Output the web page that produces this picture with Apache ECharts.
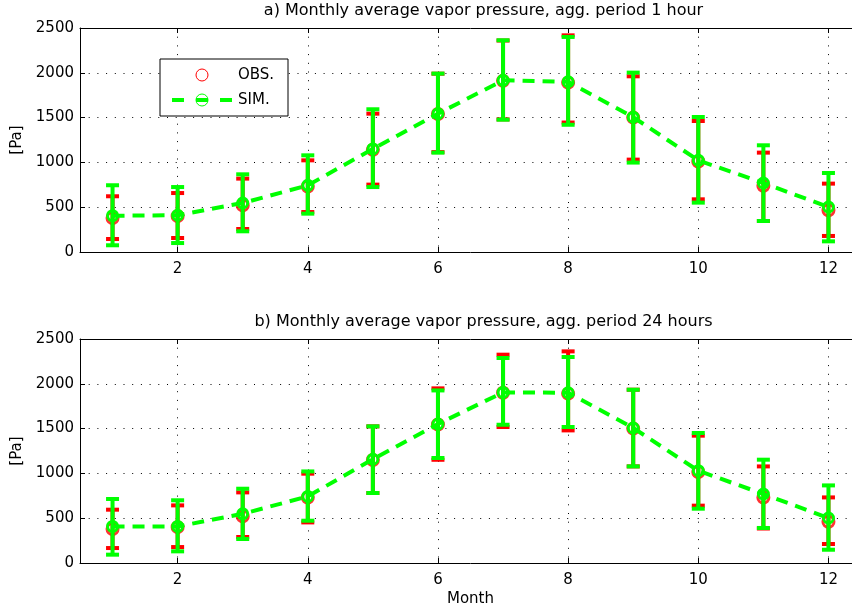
<!DOCTYPE html>
<html>
<head>
<meta charset="utf-8">
<script src="https://cdn.jsdelivr.net/npm/echarts@6/dist/echarts.min.js"></script>
<style>
html,body{margin:0;padding:0;overflow:hidden;background:#fff;width:852px;height:613px;}
#chart{width:861px;height:613px;}
</style>
</head>
<body>
<div id="chart"></div>
<script>
// ---- data ----
const months = [1,2,3,4,5,6,7,8,9,10,11,12];
const xTickLabels = [2,4,6,8,10,12];
const yTicks = [0,500,1000,1500,2000,2500];
const titles = ['a) Monthly average vapor pressure, agg. period 1 hour',
                'b) Monthly average vapor pressure, agg. period 24 hours'];

// a) 1 hour aggregation
const obsMeanA = [380, 400, 520, 730, 1140, 1540, 1910, 1890, 1500, 1010, 740, 465];
const obsLoA   = [145, 156, 257, 446, 752, 1115, 1480, 1445, 1031, 588, 346, 179];
const obsHiA   = [622, 658, 819, 1023, 1544, 1990, 2360, 2418, 1961, 1462, 1109, 763];
const simMeanA = [405, 410, 547, 744, 1150, 1544, 1916, 1900, 1505, 1023, 770, 502];
const simLoA   = [75, 100, 231, 428, 725, 1109, 1477, 1420, 998, 551, 346, 119];
const simHiA   = [745, 725, 867, 1079, 1593, 1991, 2363, 2400, 2002, 1507, 1191, 882];

// b) 24 hours aggregation
const obsMeanB = [380, 400, 520, 730, 1150, 1545, 1900, 1890, 1500, 1015, 730, 460];
const obsLoB   = [167, 178, 290, 453, 781, 1152, 1518, 1480, 1078, 640, 385, 212];
const obsHiB   = [595, 643, 788, 997, 1525, 1949, 2325, 2362, 1934, 1421, 1078, 732];
const simMeanB = [408, 408, 549, 743, 1158, 1551, 1904, 1900, 1507, 1030, 770, 502];
const simLoB   = [93, 130, 268, 472, 781, 1172, 1543, 1518, 1078, 606, 391, 148];
const simHiB   = [714, 700, 829, 1022, 1525, 1926, 2288, 2299, 1934, 1451, 1153, 866];

// ---- styling ----
const RED = '#ff0000', GREEN = '#00ff00';
const FONT = 'DejaVu Sans, Liberation Sans, Arial, sans-serif';
const FS = 15;
const dotted = {color:'#000', width:1, type:[1,7.7]};

const chart = echarts.init(document.getElementById('chart'), null, {renderer:'canvas'});

function errRender(color, capW, lw) {
  return function (params, api) {
    const x = api.value(0), lo = api.value(1), hi = api.value(2);
    const a = api.coord([x, hi]), b = api.coord([x, lo]);
    const st = {stroke: color, lineWidth: lw};
    return {type:'group', children:[
      {type:'line', shape:{x1:a[0], y1:a[1], x2:b[0], y2:b[1]}, style:st},
      {type:'line', shape:{x1:a[0]-capW/2, y1:a[1], x2:a[0]+capW/2, y2:a[1]}, style:st},
      {type:'line', shape:{x1:b[0]-capW/2, y1:b[1], x2:b[0]+capW/2, y2:b[1]}, style:st}
    ]};
  };
}

const grids = [
  {left:80, top:28, width:781, height:224},
  {left:80, top:339, width:781, height:224}
];

const xAxes = [], yAxes = [], series = [];
const panels = [
  {obsMean:obsMeanA, obsLo:obsLoA, obsHi:obsHiA, simMean:simMeanA, simLo:simLoA, simHi:simHiA},
  {obsMean:obsMeanB, obsLo:obsLoB, obsHi:obsHiB, simMean:simMeanB, simLo:simLoB, simHi:simHiB}
];

panels.forEach((p, i) => {
  xAxes.push({
    type:'value', gridIndex:i, position:'bottom', min:0.5, max:12.5,
    axisLine:{show:true, onZero:false, lineStyle:{color:'#000', width:1}},
    axisTick:{show:true, inside:true, length:5, customValues:xTickLabels, lineStyle:{color:'#000'}},
    axisLabel:{show:true, customValues:xTickLabels, color:'#000', fontFamily:FONT, fontSize:FS, margin:10},
    splitLine:{show:true, lineStyle:dotted},
    name: i === 1 ? 'Month' : '', nameLocation:'middle', nameGap:29,
    nameTextStyle:{color:'#000', fontFamily:FONT, fontSize:FS}
  });
  xAxes.push({
    type:'value', gridIndex:i, position:'top', min:0.5, max:12.5,
    axisLine:{show:true, onZero:false, lineStyle:{color:'#000', width:1}},
    axisTick:{show:true, inside:true, length:5, customValues:xTickLabels, lineStyle:{color:'#000'}},
    axisLabel:{show:false, customValues:xTickLabels},
    splitLine:{show:false},
    name: titles[i], nameLocation:'middle', nameGap:9,
    nameTextStyle:{color:'#000', fontFamily:FONT, fontSize:16, padding:[0,0,0,26]}
  });
  yAxes.push({
    type:'value', gridIndex:i, position:'left', min:0, max:2500, interval:500,
    axisLine:{show:true, lineStyle:{color:'#000', width:1}},
    axisTick:{show:true, inside:true, length:5, lineStyle:{color:'#000'}},
    axisLabel:{color:'#000', fontFamily:FONT, fontSize:FS, margin:6, formatter: v => String(v)},
    splitLine:{show:true, lineStyle:dotted},
    name:'[Pa]', nameLocation:'middle', nameGap:55, nameRotate:90,
    nameTextStyle:{color:'#000', fontFamily:FONT, fontSize:FS}
  });
  yAxes.push({
    type:'value', gridIndex:i, position:'right', min:0, max:2500, interval:500,
    axisLine:{show:true, lineStyle:{color:'#000', width:1}},
    axisTick:{show:true, inside:true, length:5, lineStyle:{color:'#000'}},
    axisLabel:{show:false}, splitLine:{show:false}
  });
  const xi = i*2, yi = i*2;
  series.push({
    type:'custom', xAxisIndex:xi, yAxisIndex:yi, renderItem:errRender(RED, 13, 4),
    data: months.map((m,k) => [m, p.obsLo[k], p.obsHi[k]]), z:2, silent:true
  });
  series.push({
    type:'scatter', xAxisIndex:xi, yAxisIndex:yi, symbol:'circle', symbolSize:11,
    itemStyle:{color:'rgba(0,0,0,0)', borderColor:RED, borderWidth:3},
    data: months.map((m,k) => [m, p.obsMean[k]]), z:3, silent:true
  });
  series.push({
    type:'custom', xAxisIndex:xi, yAxisIndex:yi, renderItem:errRender(GREEN, 13, 4),
    data: months.map((m,k) => [m, p.simLo[k], p.simHi[k]]), z:4, silent:true
  });
  series.push({
    type:'line', xAxisIndex:xi, yAxisIndex:yi, symbol:'circle', symbolSize:10,
    lineStyle:{color:GREEN, width:4, type:[12,8]},
    itemStyle:{color:'rgba(0,0,0,0)', borderColor:GREEN, borderWidth:3},
    data: months.map((m,k) => [m, p.simMean[k]]), z:5, silent:true
  });
});

const option = {
  animation:false,
  backgroundColor:'#fff',
  grid: grids,
  xAxis: xAxes,
  yAxis: yAxes,
  series: series,
  graphic: [
    {type:'rect', shape:{x:160, y:59, width:128, height:57}, style:{fill:'#fff', stroke:'#000', lineWidth:1}, z:100},
    {type:'circle', shape:{cx:202, cy:75, r:6}, style:{fill:'none', stroke:RED, lineWidth:1}, z:101},
    {type:'text', x:238, y:75, style:{text:'OBS.', fill:'#000', font:FS+'px '+FONT, verticalAlign:'middle'}, z:101},
    {type:'line', shape:{x1:172, y1:100, x2:232, y2:100}, style:{stroke:GREEN, lineWidth:4, lineDash:[12,12]}, z:101},
    {type:'circle', shape:{cx:202, cy:100, r:6}, style:{fill:'none', stroke:GREEN, lineWidth:1}, z:102},
    {type:'text', x:238, y:100, style:{text:'SIM.', fill:'#000', font:FS+'px '+FONT, verticalAlign:'middle'}, z:101}
  ]
};
chart.setOption(option);
</script>
</body>
</html>
